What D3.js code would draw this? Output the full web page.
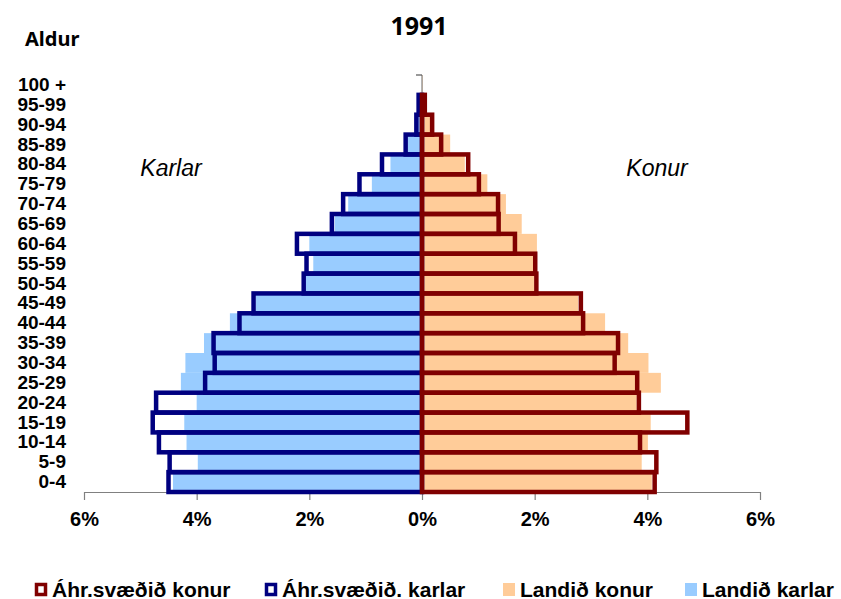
<!DOCTYPE html>
<html>
<head>
<meta charset="utf-8">
<script src="https://cdn.jsdelivr.net/npm/d3@7"></script>
<style>
  body { margin: 0; background: #fff; }
  text { font-family: "Liberation Sans", Arial, sans-serif; }
</style>
</head>
<body>
<div id="chart"></div>
<script>
// age groups, oldest first (top of the pyramid)
var ages = ["100 +", "95-99", "90-94", "85-89", "80-84", "75-79", "70-74", "65-69", "60-64",
  "55-59", "50-54", "45-49", "40-44", "35-39", "30-34", "25-29", "20-24", "15-19",
  "10-14", "5-9", "0-4"];

// percent of population, same order as ages
var ahrKonur = [0, 0.05, 0.18, 0.34, 0.82, 1.01, 1.35, 1.36, 1.65, 2.01, 2.03, 2.82, 2.86,
  3.48, 3.42, 3.82, 3.85, 4.71, 3.87, 4.16, 4.13];
var ahrKarlar = [0, 0.06, 0.10, 0.29, 0.71, 1.11, 1.40, 1.60, 2.22, 2.05, 2.10, 2.99, 3.24,
  3.70, 3.68, 3.85, 4.72, 4.78, 4.67, 4.48, 4.50];
var landidKonur = [0.01, 0.05, 0.15, 0.50, 0.76, 1.16, 1.49, 1.77, 2.04, 1.98, 1.99, 2.77, 3.25,
  3.66, 4.02, 4.24, 3.81, 4.06, 4.01, 3.90, 4.08];
var landidKarlar = [0, 0.04, 0.09, 0.25, 0.56, 0.89, 1.31, 1.55, 2.00, 1.93, 2.06, 2.95, 3.41,
  3.87, 4.20, 4.28, 4.00, 4.22, 4.18, 3.98, 4.42];

var xTicks = [-6, -4, -2, 0, 2, 4, 6];

var legendItems = [
  {name: "Áhr.svæðið konur", color: "#800000", outline: true},
  {name: "Áhr.svæðið. karlar", color: "#000080", outline: true},
  {name: "Landið konur", color: "#FFCC99", outline: false},
  {name: "Landið karlar", color: "#99CCFF", outline: false}
];

var svgWidth = 841;
var svgHeight = 599;

var svg = d3.select("#chart")
  .append("svg")
  .attr("width", svgWidth)
  .attr("height", svgHeight);

var x = d3.scaleLinear()
  .domain([-6, 6])
  .range([84, 760]);

var y = d3.scaleBand()
  .domain(ages)
  .range([75, 492])
  .padding(0);

var rows = ages.map(function(a, i) {
  return {age: a, ak: ahrKonur[i], am: ahrKarlar[i], lk: landidKonur[i], lm: landidKarlar[i]};
});

// filled bars (Landið)
svg.append("g").selectAll("rect")
  .data(rows)
  .enter()
  .append("rect")
  .attr("x", d => x(-d.lm))
  .attr("y", d => y(d.age))
  .attr("width", d => x(0) - x(-d.lm))
  .attr("height", y.bandwidth())
  .attr("fill", "#99CCFF");

svg.append("g").selectAll("rect")
  .data(rows)
  .enter()
  .append("rect")
  .attr("x", x(0))
  .attr("y", d => y(d.age))
  .attr("width", d => x(d.lk) - x(0))
  .attr("height", y.bandwidth())
  .attr("fill", "#FFCC99");

// x axis
var xAxis = svg.append("g")
  .attr("transform", `translate(0, ${y.range()[1]})`)
  .call(d3.axisBottom(x)
    .tickValues(xTicks)
    .tickSize(8)
    .tickSizeOuter(0)
    .tickPadding(12)
    .tickFormat(d => Math.abs(d) + "%"));
xAxis.select(".domain").attr("stroke", "#808080").attr("stroke-width", 1.2);
xAxis.selectAll(".tick line").attr("stroke", "#808080").attr("stroke-width", 1.2);
xAxis.selectAll(".tick text")
  .attr("fill", "#000")
  .style("font-size", "20px")
  .style("font-weight", "bold");

// y axis line at 0 with ticks on band boundaries
svg.append("line")
  .attr("x1", x(0)).attr("x2", x(0))
  .attr("y1", y.range()[0]).attr("y2", y.range()[1])
  .attr("stroke", "#808080")
  .attr("stroke-width", 1.2);

svg.append("g").selectAll("line")
  .data(ages)
  .enter()
  .append("line")
  .attr("x1", (d, i) => i === 0 ? x(0) - 6 : x(0) - 4)
  .attr("x2", (d, i) => i === 0 ? x(0) : x(0) + 4)
  .attr("y1", d => y(d))
  .attr("y2", d => y(d))
  .attr("stroke", "#555")
  .attr("stroke-width", 1.2);

// outlined bars (Áhr.svæðið)
svg.append("g").selectAll("rect")
  .data(rows.filter(d => d.am > 0))
  .enter()
  .append("rect")
  .attr("x", d => x(-d.am))
  .attr("y", d => y(d.age))
  .attr("width", d => x(0) - x(-d.am))
  .attr("height", y.bandwidth())
  .attr("fill", "none")
  .attr("stroke", "#000080")
  .attr("stroke-width", 4.5);

svg.append("g").selectAll("rect")
  .data(rows.filter(d => d.ak > 0))
  .enter()
  .append("rect")
  .attr("x", x(0))
  .attr("y", d => y(d.age))
  .attr("width", d => x(d.ak) - x(0))
  .attr("height", y.bandwidth())
  .attr("fill", "none")
  .attr("stroke", "#800000")
  .attr("stroke-width", 4.5);

// age labels
var yAxis = svg.append("g")
  .attr("transform", "translate(66, 0)")
  .call(d3.axisLeft(y).tickSize(0).tickPadding(0));
yAxis.select(".domain").remove();
yAxis.selectAll(".tick text")
  .attr("fill", "#000")
  .style("font-size", "19px")
  .style("font-weight", "bold");

// titles
svg.append("text")
  .attr("x", 419)
  .attr("y", 35)
  .attr("text-anchor", "middle")
  .style("font-family", "'Noto Sans', sans-serif")
  .style("font-size", "25px")
  .style("font-weight", "bold")
  .text("1991");

svg.append("text")
  .attr("x", 25)
  .attr("y", 46)
  .style("font-family", "'Noto Sans', sans-serif")
  .style("font-size", "20px")
  .style("font-weight", "bold")
  .text("Aldur");

svg.append("text")
  .attr("x", 171)
  .attr("y", 176)
  .attr("text-anchor", "middle")
  .style("font-size", "23px")
  .style("font-style", "italic")
  .text("Karlar");

svg.append("text")
  .attr("x", 657)
  .attr("y", 176)
  .attr("text-anchor", "middle")
  .style("font-size", "23px")
  .style("font-style", "italic")
  .text("Konur");

// legend
var legendX = [35, 265, 503, 685];
var legend = svg.append("g").selectAll("g")
  .data(legendItems)
  .enter()
  .append("g")
  .attr("transform", (d, i) => `translate(${legendX[i]}, 583)`);

legend.append("rect")
  .attr("x", d => d.outline ? 1.5 : 0)
  .attr("y", d => d.outline ? 1.5 : 0)
  .attr("width", d => d.outline ? 9 : 12)
  .attr("height", d => d.outline ? 10 : 13)
  .attr("fill", d => d.outline ? "#fff" : d.color)
  .attr("stroke", d => d.outline ? d.color : "none")
  .attr("stroke-width", 3.5);

legend.append("text")
  .attr("x", 17)
  .attr("y", 13.5)
  .style("font-size", "21px")
  .style("font-weight", "bold")
  .text(d => d.name);
</script>
</body>
</html>
